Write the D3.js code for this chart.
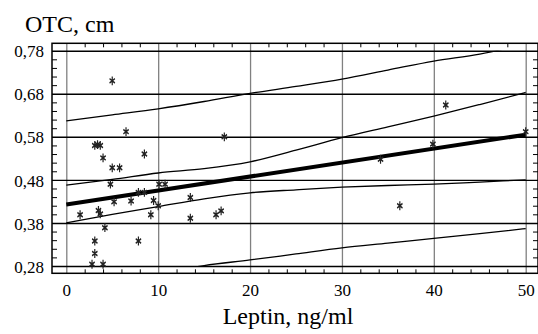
<!DOCTYPE html>
<html>
<head>
<meta charset="utf-8">
<script src="https://cdn.jsdelivr.net/npm/d3@7"></script>
<style>
  body { margin: 0; background: #fff; }
  text { font-family: "Liberation Serif", "Times New Roman", serif; fill: #000; }
</style>
</head>
<body>
<script>
// leptin (ng/ml) vs OTC (cm)
const leptin = [5.0, 6.5, 3.1, 3.4, 3.7, 4.0, 8.5, 5.0, 5.8, 4.8, 5.2, 7.05, 7.85, 8.5,
    9.5, 10.0, 9.2, 10.1, 10.75, 1.5, 3.5, 3.7, 4.2, 3.1, 3.1, 2.8, 4.0, 7.85,
    17.2, 13.5, 13.5, 16.3, 16.85, 41.3, 39.9, 34.2, 50.0, 36.3]
const otc = [0.710, 0.592, 0.560, 0.562, 0.560, 0.531, 0.540, 0.508, 0.508, 0.470, 0.429, 0.431, 0.451, 0.451,
    0.432, 0.420, 0.399, 0.470, 0.470, 0.399, 0.409, 0.401, 0.369, 0.338, 0.309, 0.284, 0.284, 0.338,
    0.580, 0.439, 0.391, 0.399, 0.408, 0.654, 0.563, 0.528, 0.592, 0.420]

// regression line and bands
const fitX = [0, 50]
const fitY = [0.423, 0.585]
const bandX = [0, 5, 10, 15, 20, 25, 30, 35, 40, 45, 50]
const ciUpper = [0.468, 0.481, 0.496, 0.506, 0.522, 0.549, 0.578, 0.603, 0.628, 0.655, 0.683]
const ciLower = [0.380, 0.400, 0.418, 0.436, 0.450, 0.457, 0.463, 0.467, 0.470, 0.475, 0.480]
const piUpper = [0.617, 0.631, 0.645, 0.662, 0.681, 0.697, 0.714, 0.735, 0.756, 0.772, 0.796]
const piLower = [0.229, 0.245, 0.262, 0.281, 0.294, 0.308, 0.322, 0.333, 0.344, 0.355, 0.367]

const xTicks = [0, 10, 20, 30, 40, 50]
const yTicks = [0.28, 0.38, 0.48, 0.58, 0.68, 0.78]
const xMinor = [2, 4, 6, 8, 12, 14, 16, 18, 22, 24, 26, 28, 32, 34, 36, 38, 42, 44, 46, 48]
const yMinor = [0.30, 0.32, 0.34, 0.36, 0.40, 0.42, 0.44, 0.46, 0.50, 0.52, 0.54, 0.56,
    0.60, 0.62, 0.64, 0.66, 0.70, 0.72, 0.74, 0.76]

const w = 538
const h = 334
const frameL = 52, frameR = 538, frameT = 43.3, frameB = 273.3

const svg = d3.select('body')
    .append('svg')
    .attr('width', w)
    .attr('height', h)

const x = d3.scaleLinear().domain([0, 50]).range([66.3, 525.7])
const y = d3.scaleLinear().domain([0.28, 0.78]).range([266, 50.7])
const fmt = d => d.toFixed(2).replace('.', ',')

// vertical grid
svg.append('g')
    .attr('transform', `translate(0,${frameB})`)
    .call(d3.axisBottom(x).tickValues(xTicks).tickSize(-(frameB - frameT)).tickFormat(''))
    .call(g => g.select('.domain').remove())
    .call(g => g.selectAll('line').attr('stroke', '#808080').attr('stroke-width', 1.3))

// horizontal grid
svg.append('g')
    .attr('transform', `translate(${frameL},0)`)
    .call(d3.axisLeft(y).tickValues(yTicks).tickSize(-(frameR - frameL)).tickFormat(''))
    .call(g => g.select('.domain').remove())
    .call(g => g.selectAll('line').attr('stroke', '#000').attr('stroke-width', 1.4))

// minor ticks
svg.append('g').attr('transform', `translate(${frameL},0)`)
    .call(d3.axisRight(y).tickValues(yMinor).tickSize(5).tickFormat(''))
svg.append('g').attr('transform', `translate(${frameR},0)`)
    .call(d3.axisLeft(y).tickValues(yMinor).tickSize(5).tickFormat(''))
svg.append('g').attr('transform', `translate(0,${frameT})`)
    .call(d3.axisBottom(x).tickValues(xMinor).tickSize(4).tickFormat(''))
svg.append('g').attr('transform', `translate(0,${frameB})`)
    .call(d3.axisTop(x).tickValues(xMinor).tickSize(4).tickFormat(''))
svg.selectAll('.domain').remove()

// frame
svg.append('rect')
    .attr('x', frameL).attr('y', frameT)
    .attr('width', frameR - frameL).attr('height', frameB - frameT)
    .attr('fill', 'none').attr('stroke', '#000').attr('stroke-width', 1.5)

// tick labels
svg.append('g')
    .attr('transform', `translate(${frameL},0)`)
    .call(d3.axisLeft(y).tickValues(yTicks).tickSize(0).tickPadding(8).tickFormat(fmt))
    .call(g => g.select('.domain').remove())
    .call(g => g.selectAll('text').attr('font-size', 17).attr('font-family', null).attr('dy', '0.36em'))

svg.append('g')
    .attr('transform', `translate(0,${frameB})`)
    .call(d3.axisBottom(x).tickValues(xTicks).tickSize(0).tickPadding(11).tickFormat(d3.format('d')))
    .call(g => g.select('.domain').remove())
    .call(g => g.selectAll('text').attr('font-size', 17).attr('font-family', null))

// lines, clipped to the 0.28..0.78 band
svg.append('clipPath').attr('id', 'clip')
    .append('rect')
    .attr('x', frameL).attr('y', y(0.78))
    .attr('width', frameR - frameL).attr('height', y(0.28) - y(0.78))

const line = d3.line()
    .curve(d3.curveMonotoneX)
    .x(d => x(d[0]))
    .y(d => y(d[1]))

const plot = svg.append('g').attr('clip-path', 'url(#clip)')
const bands = [ciUpper, ciLower, piUpper, piLower]
bands.forEach(b => {
    plot.append('path')
        .datum(bandX.map((v, i) => [v, b[i]]))
        .attr('fill', 'none')
        .attr('stroke', '#000')
        .attr('stroke-width', 1.3)
        .attr('d', line)
})
plot.append('path')
    .datum(fitX.map((v, i) => [v, fitY[i]]))
    .attr('fill', 'none')
    .attr('stroke', '#000')
    .attr('stroke-width', 4)
    .attr('d', line)

// points
const star = d3.symbol(d3.symbolAsterisk, 55)
svg.append('g')
    .selectAll('path')
    .data(leptin)
    .join('path')
    .attr('transform', (d, i) => `translate(${x(d)},${y(otc[i])}) scale(0.7,1)`)
    .attr('d', star)
    .attr('fill', 'none')
    .attr('stroke', '#222')
    .attr('stroke-width', 1.7)

// titles
svg.append('text')
    .attr('x', 25).attr('y', 32)
    .attr('font-size', 24)
    .text('OTC, cm')

svg.append('text')
    .attr('x', 288).attr('y', 324)
    .attr('text-anchor', 'middle')
    .attr('font-size', 24)
    .text('Leptin, ng/ml')
</script>
</body>
</html>
